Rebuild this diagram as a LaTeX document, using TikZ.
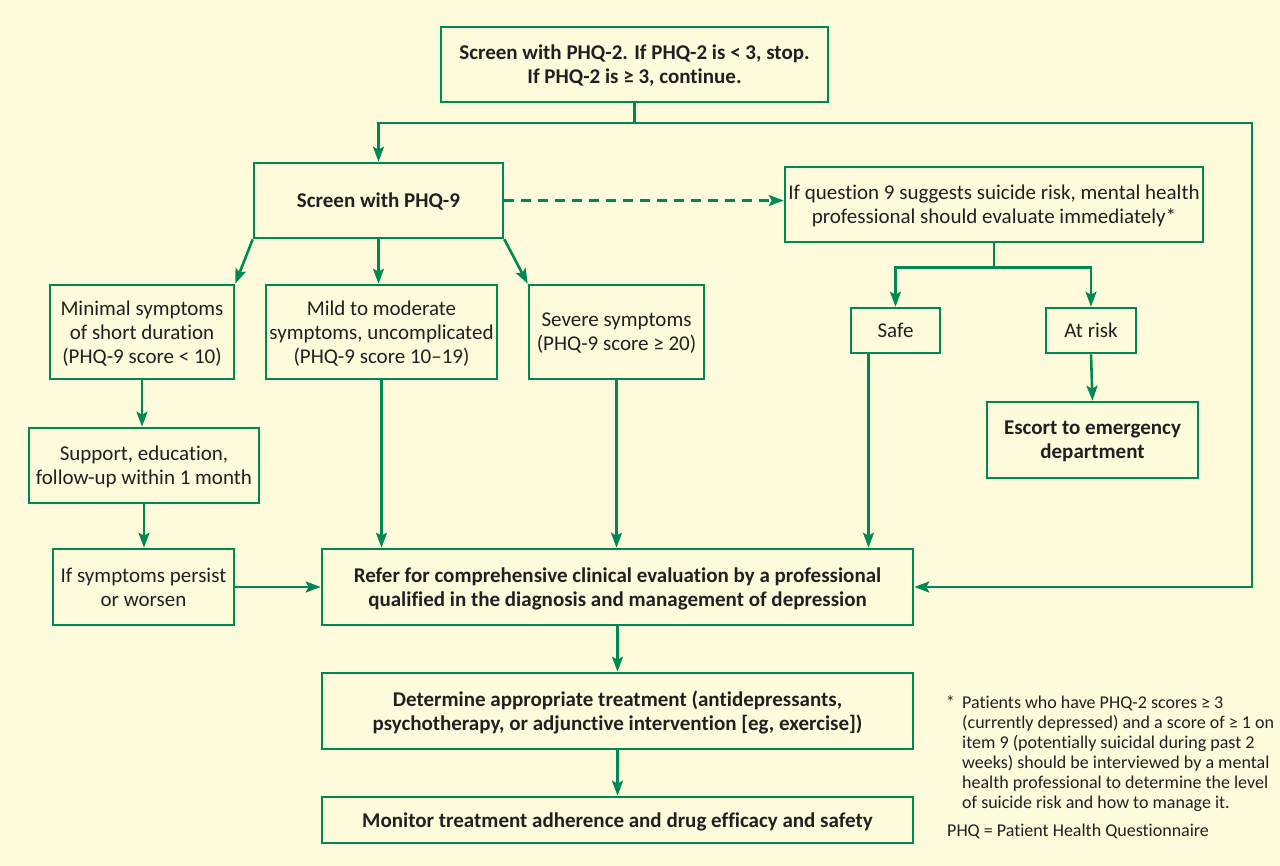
\documentclass[tikz,border=0pt]{standalone}
\usepackage{fontspec}
\setmainfont{Carlito}[Ligatures=NoCommon]
\usetikzlibrary{arrows.meta,calc}
\definecolor{bg}{RGB}{254,251,221}
\definecolor{pgreen}{RGB}{0,136,84}
\definecolor{ink}{RGB}{35,31,32}
\tikzset{>={Stealth[length=15pt,width=11pt,inset=3pt]},
  box/.style={draw=pgreen,line width=2.6pt,fill=bg,align=center,inner sep=0pt,text=ink,
    text depth=0pt,font=\fontsize{21}{24}\selectfont},
  bbox/.style={box,font=\fontsize{21}{24}\selectfont\bfseries},
  flow/.style={draw=pgreen,line width=2.6pt,->},
  note/.style={text=ink,align=left,inner sep=0pt,font=\fontsize{18}{20}\selectfont}}

\begin{document}
\begin{tikzpicture}[x=1pt,y=-1pt]
\useasboundingbox[fill=bg] (0,0) rectangle (1280,866);
\node[bbox,minimum width=387,minimum height=75] (phqtwo) at (634.5,64.5)
  {Screen with PHQ-2. If PHQ-2 is < 3, stop.\\If PHQ-2 is ≥ 3, continue.};
\node[bbox,minimum width=249,minimum height=75] (phqnine) at (378.5,200.5) {Screen with PHQ-9};
\node[box,minimum width=418,minimum height=75] (suicide) at (994,204.5)
  {If question 9 suggests suicide risk, mental health\\professional should evaluate immediately*};
\node[box,minimum width=184,minimum height=94] (minimal) at (142,332)
  {Minimal symptoms\\of short duration\\(PHQ-9 score < 10)};
\node[box,minimum width=231,minimum height=94] (mild) at (381.5,332)
  {Mild to moderate\\symptoms, uncomplicated\\(PHQ-9 score 10–19)};
\node[box,minimum width=175,minimum height=94] (severe) at (616.5,332)
  {Severe symptoms\\(PHQ-9 score ≥ 20)};
\node[box,minimum width=89,minimum height=45] (safe) at (895.5,330.5) {Safe};
\node[box,minimum width=90,minimum height=45] (atrisk) at (1091,330.5) {At risk};
\node[bbox,minimum width=211,minimum height=76] (escort) at (1092.5,440)
  {Escort to emergency\\department};
\node[box,minimum width=230,minimum height=75] (support) at (144,465.5)
  {Support, education,\\follow-up within 1 month};
\node[box,minimum width=181,minimum height=76] (persist) at (143.5,587)
  {If symptoms persist\\or worsen};
\node[bbox,minimum width=591,minimum height=76] (refer) at (617.5,587)
  {Refer for comprehensive clinical evaluation by a professional\\qualified in the diagnosis and management of depression};
\node[bbox,minimum width=591,minimum height=76] (treat) at (617.5,711)
  {Determine appropriate treatment (antidepressants,\\psychotherapy, or adjunctive intervention [eg, exercise])};
\node[bbox,minimum width=591,minimum height=46] (monitor) at (617.5,820)
  {Monitor treatment adherence and drug efficacy and safety};
\node[note,anchor=north west] (fn) at (962,696)
  {Patients who have PHQ-2 scores ≥ 3\\(currently depressed) and a score of ≥ 1 on\\item 9 (potentially suicidal during past 2\\weeks) should be interviewed by a mental\\health professional to determine the level\\of suicide risk and how to manage it.};
\node[note,anchor=north east] (star) at ([xshift=-7]fn.north west) {*};
\node[note,anchor=north west] (abbr) at (947,824) {PHQ = Patient Health Questionnaire};
\coordinate (rail) at (1252,123);
\coordinate (fork) at (phqtwo.south |- rail);
\coordinate (sfork) at ($(suicide.south)+(0,24)$);
\draw[flow] (phqtwo.south) -- (fork) -| (phqnine.north);
\draw[flow] (fork) -- (rail) |- (refer.east);
\draw[flow,dash pattern=on 10pt off 7pt] (phqnine.east) -- (phqnine.east -| suicide.west);
\draw[flow] (phqnine.south west) -- (minimal.north east);
\draw[flow] (phqnine.south) -- (phqnine.south |- mild.north);
\draw[flow] (phqnine.south east) -- (severe.north west);
\draw[flow] (suicide.south) -- (sfork) -| (safe.north);
\draw[flow] (sfork) -| (atrisk.north);
\draw[flow] (atrisk.south) -- (escort.north);
\draw[flow] (minimal.south) -- (minimal.south |- support.north);
\draw[flow] (support.south) -- (support.south |- persist.north);
\draw[flow] (persist.east) -- (refer.west);
\draw[flow] (mild.south) -- (mild.south |- refer.north);
\draw[flow] (severe.south) -- (severe.south |- refer.north);
\draw[flow] ([xshift=-27]safe.south) -- ([xshift=-27]safe.south |- refer.north);
\draw[flow] (refer.south) -- (treat.north);
\draw[flow] (treat.south) -- (monitor.north);
\end{tikzpicture}
\end{document}
